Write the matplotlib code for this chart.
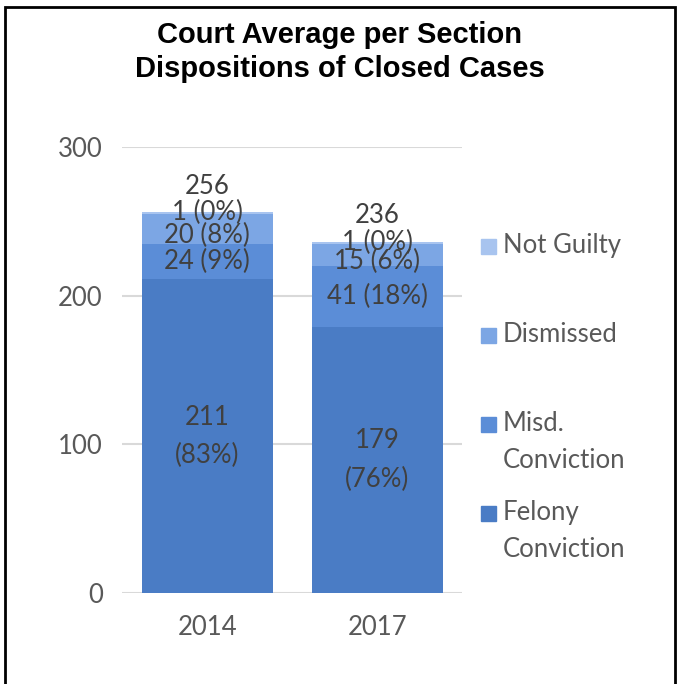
import matplotlib
matplotlib.use("Agg")
import matplotlib.pyplot as plt
from matplotlib.patches import Rectangle
import numpy as np

# data
years = ["2014", "2017"]
series = ["Felony\nConviction", "Misd.\nConviction", "Dismissed", "Not Guilty"]
felony = [211, 179]
misd = [24, 41]
dismissed = [20, 15]
not_guilty = [1, 1]
pcts = {
    "felony": ["83%", "76%"],
    "misd": ["9%", "18%"],
    "dismissed": ["8%", "6%"],
    "not_guilty": ["0%", "0%"],
}
totals = [256, 236]
yticks = [0, 100, 200, 300]

colors = ["#4a7cc5", "#5b8dd7", "#7ca6e4", "#a8c4ef"]
txt = "#404040"
tick_c = "#595959"
font = "Lato"
fs = 18.5

fig = plt.figure(figsize=(6.79, 6.84), dpi=100)
ax = fig.add_axes([0.180, 0.133, 0.501, 0.652])

x = np.arange(len(years))
w = 0.77
vals = [felony, misd, dismissed, not_guilty]
bottom = np.zeros(len(years))
for v, c, lab in zip(vals, colors, series):
    ax.bar(x, v, w, bottom=bottom, color=c, label=lab, zorder=2)
    bottom += np.array(v)

# data labels
for i in range(len(years)):
    ax.text(x[i], felony[i] / 2, "%d\n(%s)" % (felony[i], pcts["felony"][i]),
            ha="center", va="center", fontsize=fs, color=txt, family=font,
            linespacing=1.65, zorder=3)
    ax.text(x[i], felony[i] + misd[i] / 2, "%d (%s)" % (misd[i], pcts["misd"][i]),
            ha="center", va="center", fontsize=fs, color=txt, family=font, zorder=3)
    top_d = felony[i] + misd[i]
    ax.annotate("%d (%s)" % (dismissed[i], pcts["dismissed"][i]),
                (x[i], top_d + dismissed[i] / 2), xytext=(0, -5),
                textcoords="offset points", ha="center", va="center",
                fontsize=fs, color=txt, family=font, zorder=3)
    ax.annotate("%d (%s)" % (not_guilty[i], pcts["not_guilty"][i]),
                (x[i], totals[i]), xytext=(0, 0), textcoords="offset points",
                ha="center", va="center", fontsize=fs, color=txt, family=font, zorder=3)
    ax.annotate("%d" % totals[i], (x[i], totals[i]), xytext=(0, 19),
                textcoords="offset points", ha="center", va="center",
                fontsize=fs, color=txt, family=font, zorder=3)

ax.set_xlim(-0.5, 1.5)
ax.set_ylim(0, 300)
ax.set_yticks(yticks)
ax.set_xticks(x)
ax.set_xticklabels(years)
ax.yaxis.grid(True, color="#d9d9d9", linewidth=1.5, zorder=0)
ax.set_axisbelow(True)
for s in ["top", "right", "left", "bottom"]:
    ax.spines[s].set_visible(False)
ax.tick_params(length=0, labelsize=fs, labelcolor=tick_c, pad=14)
ax.tick_params(axis="x", pad=16)
for t in ax.get_xticklabels() + ax.get_yticklabels():
    t.set_family(font)

# legend, top entry first, squares aligned with first text line
leg_y0 = 1 - 246 / 684
step = 89 / 684
for k, (lab, c) in enumerate(zip(series[::-1], colors[::-1])):
    yy = leg_y0 - k * step
    fig.patches.append(Rectangle((481 / 679, yy - 7.5 / 684), 15 / 679, 15 / 684,
                                 transform=fig.transFigure, color=c))
    fig.text(503 / 679, yy + 13 / 684, lab, ha="left", va="top", fontsize=fs,
             color=tick_c, family=font, linespacing=1.6)

fig.text(0.5, 1 - 52 / 684, "Court Average per Section\nDispositions of Closed Cases",
         ha="center", va="center", fontsize=21, fontweight="bold",
         family="Liberation Sans", color="black", linespacing=1.25)

# outer frame
fig.patches.append(Rectangle((5 / 679, -0.05), 670 / 679, 1.05 - 7 / 684,
                             transform=fig.transFigure, fill=False,
                             edgecolor="black", linewidth=2))

fig.savefig("out.png", dpi=100)
